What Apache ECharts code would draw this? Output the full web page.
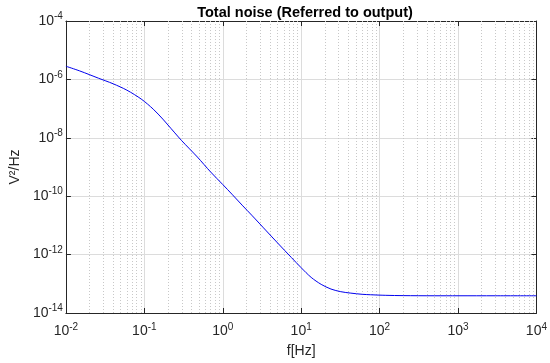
<!DOCTYPE html>
<html>
<head>
<meta charset="utf-8">
<script src="https://cdn.jsdelivr.net/npm/echarts@6/dist/echarts.min.js"></script>
<style>html,body{margin:0;padding:0;background:#fff}#c{width:550px;height:363px}</style>
</head>
<body>
<div id="c"></div>
<script>
var titleText = 'Total noise (Referred to output)';
var xName = 'f[Hz]';
var yName = 'V\u00B2/Hz';
var freqs = [0.01, 0.015, 0.026, 0.04, 0.06, 0.092, 0.13, 0.172, 0.2, 0.3, 0.475, 0.7, 1.0, 1.31, 1.8, 2.34, 3.6, 5.0, 7.5, 10, 13.4, 18, 24, 32, 43, 60, 76, 120, 200, 500, 1000, 3000, 10000];
var noise = [2.82e-6, 1.95e-6, 1.10e-6, 7.08e-7, 4.27e-7, 2.09e-7, 9.55e-8, 4.37e-8, 2.75e-8, 7.94e-9, 2.19e-9, 6.76e-10, 2.51e-10, 1.17e-10, 4.68e-11, 2.24e-11, 6.46e-12, 2.51e-12, 7.94e-13, 3.55e-13, 1.66e-13, 9.55e-14, 6.61e-14, 5.37e-14, 4.79e-14, 4.37e-14, 4.22e-14, 4.03e-14, 3.94e-14, 3.89e-14, 3.89e-14, 3.89e-14, 3.89e-14];
var xMin = 1e-2, xMax = 1e4, yMin = 1e-14, yMax = 1e-4;

function expOf(v){ return Math.round(Math.log10(v)); }
function fmtPow(v){ var e = expOf(v); return '{b|10}{s|' + (e < 0 ? '-' + (-e) : e) + '}'; }
function fmtPowEven(v){ var e = expOf(v); if (Math.abs(e) % 2 !== 0) return ''; return fmtPow(v); }

// minor grid values (k*10^d)
var minorX = [], minorY = [];
for (var d = -2; d < 4; d++) for (var k = 2; k <= 9; k++) minorX.push({xAxis: k * Math.pow(10, d)});
for (var d2 = -14; d2< -4; d2++) for (var k2 = 1; k2 <= 9; k2++) { if (k2 === 1 && d2 % 2 === 0) continue; minorY.push({yAxis: k2 * Math.pow(10, d2)}); }

var axisCol = '#262626';
var FONT = 'Liberation Sans';
var rich = {
  b: {fontSize: 14, color: axisCol, fontFamily: FONT},
  s: {fontSize: 10, color: axisCol, fontFamily: FONT, verticalAlign: 'top', padding: [0, 0, 9, 0]}
};
var chart = echarts.init(document.getElementById('c'), null, {renderer: 'canvas'});
chart.setOption({
  animation: false,
  backgroundColor: '#fff',
  title: {text: titleText, left: 300, top: 0, textAlign: 'center',
    textStyle: {fontSize: 14.5, fontWeight: 'bold', color: '#000', fontFamily: FONT}},
  grid: {left: 62, right: 12, top: 21, bottom: 47, containLabel: false},
  xAxis: [{
    type: 'log', logBase: 10, min: xMin, max: xMax, interval: 1,
    name: xName, nameLocation: 'middle', nameGap: 31,
    nameTextStyle: {fontSize: 14, color: axisCol, fontFamily: FONT},
    axisLine: {lineStyle: {color: axisCol, width: 1}},
    axisTick: {inside: true, length: 5, lineStyle: {color: axisCol}},
    axisLabel: {formatter: fmtPow, rich: rich, margin: 9},
    splitLine: {show: true, lineStyle: {color: '#dcdcdc', width: 1}}
  }, {
    type: 'log', logBase: 10, min: xMin, max: xMax, interval: 1, position: 'top',
    axisLine: {lineStyle: {color: axisCol, width: 1}},
    axisTick: {inside: true, length: 5, lineStyle: {color: axisCol}},
    axisLabel: {show: false}, splitLine: {show: false}
  }],
  yAxis: [{
    type: 'log', logBase: 10, min: yMin, max: yMax, interval: 2,
    name: yName, nameLocation: 'middle', nameGap: 37,
    nameTextStyle: {fontSize: 14, color: axisCol, fontFamily: FONT},
    axisLine: {lineStyle: {color: axisCol, width: 1}},
    axisTick: {inside: true, length: 5, lineStyle: {color: axisCol}},
    axisLabel: {formatter: fmtPowEven, rich: rich, margin: 3},
    splitLine: {show: true, lineStyle: {color: '#dcdcdc', width: 1}}
  }, {
    type: 'log', logBase: 10, min: yMin, max: yMax, interval: 2, position: 'right',
    axisLine: {lineStyle: {color: axisCol, width: 1}},
    axisTick: {inside: true, length: 5, lineStyle: {color: axisCol}},
    axisLabel: {show: false}, splitLine: {show: false}
  }],
  series: [{
    type: 'line', xAxisIndex: 0, yAxisIndex: 0,
    data: freqs.map(function(f, i){ return [f, noise[i]]; }),
    smooth: 0.3, showSymbol: false, symbol: 'none',
    lineStyle: {color: '#0000ee', width: 1},
    z: 5,
    markLine: {
      silent: true, symbol: ['none', 'none'], animation: false,
      label: {show: false},
      lineStyle: {color: '#c8c8c8', type: [1, 2], width: 1},
      data: minorX.concat(minorY),
      z: 1
    }
  }]
});
</script>
</body>
</html>
